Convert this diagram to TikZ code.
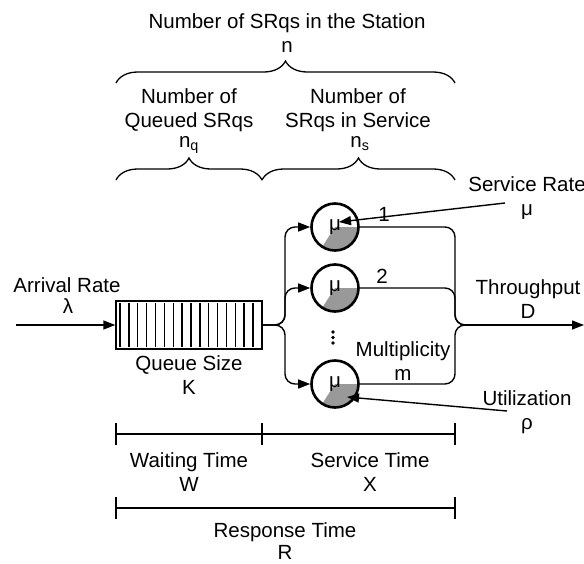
\documentclass[tikz,border=0pt]{standalone}
\usepackage{fontspec}
\setmainfont{Liberation Sans}
\usetikzlibrary{arrows.meta,decorations.pathreplacing}
\definecolor{busygray}{RGB}{153,153,153}
\begin{document}
\begin{tikzpicture}[x=1pt,y=1pt,
  txt/.style={font=\fontsize{20.5}{24}\selectfont, inner sep=0pt, anchor=base},
  wire/.style={line width=1.4pt},
  head/.style={-{Triangle[length=12pt,width=9pt]}},
  server/.style={circle, draw, line width=2.6pt, minimum size=47pt, inner sep=0pt,
    font=\fontsize{20.5}{24}\selectfont,
    path picture={\fill[busygray] (path picture bounding box.center) -- ++(237:30)
      arc[start angle=237,end angle=360,radius=30] -- cycle;}},
  brc/.style={decorate, decoration={brace, amplitude=22pt, aspect=0.5}, line width=1.3pt},
  ruler/.style={line width=1.3pt}
]
\useasboundingbox (0,0) rectangle (584,-563);

% ---- population labels and braces ----
\node[txt] (title) at (287,-28) {Number of SRqs in the Station};
\node[txt] (n) at (287,-52) {n};
\coordinate (bA) at (116,-83);
\coordinate (bB) at (455,-83);
\draw[brc] (bA) -- (bB);

\node[txt] (nqa) at (189,-103) {Number of};
\node[txt] (nqb) at (189,-127) {Queued SRqs};
\node[txt] (nq)  at (189,-147) {n\textsubscript{q}};
\node[txt] (nsa) at (358,-103) {Number of};
\node[txt] (nsb) at (358,-127) {SRqs in Service};
\node[txt] (ns)  at (360,-147) {n\textsubscript{s}};
\coordinate (cA) at (116,-180);
\coordinate (cM) at (262,-180);
\coordinate (cB) at (455,-180);
\draw[brc] (cA) -- (cM);
\draw[brc] (cM) -- (cB);

% ---- arrivals and queue ----
\node[txt] (arr) at (67,-292) {Arrival Rate};
\node[txt] (lam) at (68,-313) {λ};
\node[draw, wire, minimum width=146pt, minimum height=48pt, inner sep=0pt] (queue) at (189,-325) {};
\foreach \i in {0,...,15}
  \draw[wire] (120+\i*8.87,-303) -- ++(0,-44);
\coordinate (src) at (16,-325);
\draw[wire, head] (src) -- (queue.west);
\node[txt] (qs) at (189,-370) {Queue Size};
\node[txt] (K)  at (189,-394) {K};

% ---- servers ----
\node[server] (s1) at (335,-227) {μ};
\node[server] (s2) at (335,-288) {μ};
\node[server] (s3) at (335,-384) {μ};
\foreach \y in {-332,-337.5,-343}
  \fill (333,\y) circle (1.9);

\coordinate (split) at (285,-325);
\foreach \s in {s1,s2,s3}
  \draw[wire, head, rounded corners=10pt] (queue.east) -- (split) -- (split |- \s) -- (\s);

\coordinate (merge) at (455,-325);
\coordinate (mergeout) at (465,-325);
\coordinate (out) at (584,-325);
\foreach \s in {s1,s2,s3}
  \draw[wire, rounded corners=10pt] (\s) -- (merge |- \s) -- (merge) -- (mergeout);
\draw[wire, head] (mergeout) -- (out);

\node[txt] (one) at (384,-221) {1};
\node[txt] (two) at (382,-283) {2};
\node[txt] (mul) at (403,-356) {Multiplicity};
\node[txt] (m)   at (403,-380) {m};

% ---- right-hand annotations ----
\node[txt] (sr)   at (527,-191) {Service Rate};
\node[txt] (srmu) at (527,-215) {μ};
\node[txt] (tp)   at (528,-294) {Throughput};
\node[txt] (D)    at (528,-318) {D};
\node[txt] (ut)   at (527,-405) {Utilization};
\node[txt] (rho)  at (527,-429) {ρ};
\coordinate (srFrom) at (505,-203);
\coordinate (srTo) at (339,-222);
\draw[wire, head] (srFrom) -- (srTo);
\coordinate (utFrom) at (507,-411);
\coordinate (utTo) at (347,-397);
\draw[wire, head] (utFrom) -- (utTo);

% ---- time rulers ----
\coordinate (r0) at (116,-434);
\coordinate (r1) at (262,-434);
\coordinate (r2) at (455,-434);
\draw[ruler] (r0) -- (r2);
\foreach \p in {r0,r1,r2}
  \draw[ruler] ([yshift=11pt]\p) -- ([yshift=-11pt]\p);
\node[txt] (wt) at (189,-467) {Waiting Time};
\node[txt] (W)  at (189,-491) {W};
\node[txt] (st) at (370,-467) {Service Time};
\node[txt] (X)  at (370,-491) {X};

\coordinate (t0) at (116,-508);
\coordinate (t1) at (455,-508);
\draw[ruler] (t0) -- (t1);
\foreach \p in {t0,t1}
  \draw[ruler] ([yshift=11pt]\p) -- ([yshift=-11pt]\p);
\node[txt] (rt) at (285,-537) {Response Time};
\node[txt] (R)  at (285,-559.5) {R};
\end{tikzpicture}
\end{document}
